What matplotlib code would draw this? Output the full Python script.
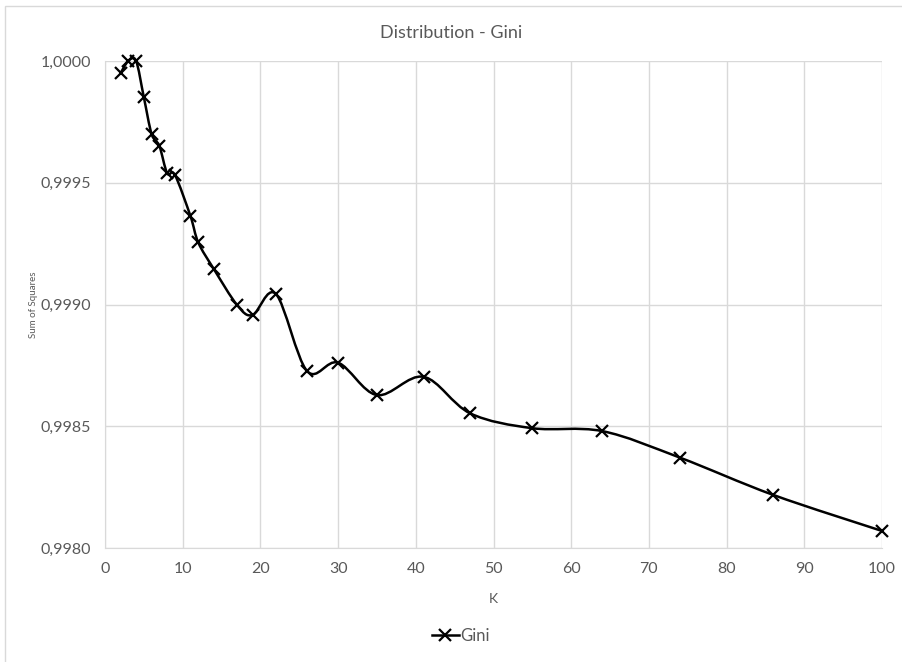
import numpy as np
import matplotlib
matplotlib.use("Agg")
import matplotlib.pyplot as plt
from matplotlib.ticker import FuncFormatter, MultipleLocator
from matplotlib.path import Path
from matplotlib.patches import PathPatch, Rectangle

plt.rcParams['font.family'] = ['Lato', 'DejaVu Sans']

# data
k_values = [2, 3, 4, 5, 6, 7, 8, 9, 11, 12, 14, 17, 19, 22, 26, 30, 35, 41, 47, 55, 64, 74, 86, 100]
gini = [0.999950, 1.000000, 1.000000, 0.999851, 0.999700, 0.999651, 0.999539, 0.999532,
        0.999363, 0.999255, 0.999146, 0.998998, 0.998957, 0.999043, 0.998727, 0.998761,
        0.998628, 0.998703, 0.998553, 0.998492, 0.998480, 0.998371, 0.998218, 0.998070]

GREY = "#595959"; GRID = "#d9d9d9"


def smooth_path(x, y):
    # Excel-style smoothed line: cubic Bezier segments through the points
    pts = np.column_stack([x, y])
    verts = [pts[0]]; codes = [Path.MOVETO]
    n = len(pts)
    for i in range(n - 1):
        p0 = pts[i - 1] if i > 0 else pts[i]
        p1 = pts[i]; p2 = pts[i + 1]
        p3 = pts[i + 2] if i + 2 < n else pts[i + 1]
        c1 = p1 + (p2 - p0) / 6.0
        c2 = p2 - (p3 - p1) / 6.0
        verts += [c1, c2, p2]; codes += [Path.CURVE4] * 3
    return Path(verts, codes)


fig = plt.figure(figsize=(9.02, 6.62), dpi=100)
fig.patches.append(Rectangle((5 / 902, -0.1), 1.1, 1 - 6 / 662 + 0.1, transform=fig.transFigure,
                             fill=False, edgecolor=GRID, lw=1.0))
ax = fig.add_axes([105 / 902, 1 - 548 / 662, 777 / 902, 487 / 662])

ax.add_patch(PathPatch(smooth_path(k_values, gini), fill=False, edgecolor="black", lw=1.8,
                       zorder=3, clip_on=False))
ax.plot(k_values, gini, ls="none", marker="x", ms=8, mew=1.6, color="black", zorder=4, clip_on=False)

ax.set_xlim(0, 100)
ax.set_ylim(0.998, 1.0)
ax.xaxis.set_major_locator(MultipleLocator(10))
ax.yaxis.set_major_locator(MultipleLocator(0.0005))
ax.yaxis.set_major_formatter(FuncFormatter(lambda v, p: f"{v:.4f}".replace(".", ",")))
ax.grid(True, color=GRID, lw=1.0)
ax.set_axisbelow(True)
for s in ["top", "right"]:
    ax.spines[s].set_visible(False)
for s in ["left", "bottom"]:
    ax.spines[s].set_color(GRID)
ax.tick_params(length=0, labelsize=11.5, colors=GREY, pad=10)

ax.set_xlabel("K", fontsize=10, color=GREY, labelpad=12)
ax.set_ylabel("Sum of Squares", fontsize=7, color=GREY, labelpad=2)
fig.text(0.5, 1 - 33 / 662, "Distribution - Gini", fontsize=13, color=GREY, ha="center", va="center")

line, = ax.plot([], [], color="black", lw=1.8, marker="x", ms=8, mew=1.6)
fig.legend([line], ["Gini"], loc="center", bbox_to_anchor=(0.511, 1 - 636 / 662), frameon=False,
           fontsize=12, labelcolor=GREY, handlelength=1.6, handletextpad=0.1)

plt.savefig("out.png", dpi=100)
